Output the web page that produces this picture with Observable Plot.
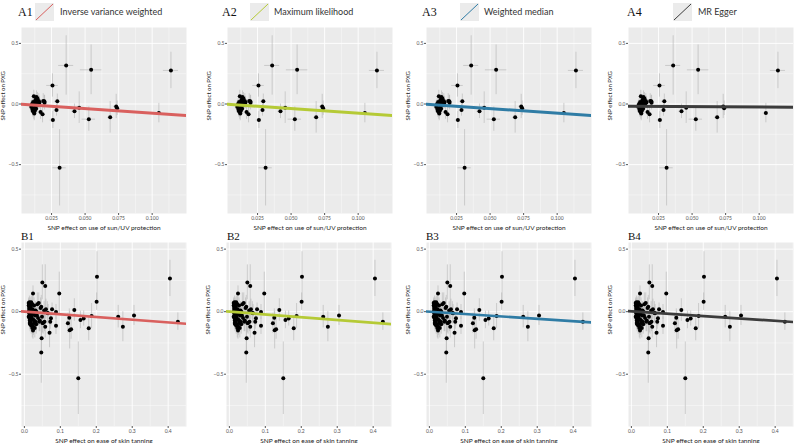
<!DOCTYPE html>
<html>
<head>
<meta charset="utf-8">
<script src="https://cdn.jsdelivr.net/npm/d3@7"></script>
<script src="https://cdn.jsdelivr.net/npm/@observablehq/plot@0.6"></script>
<style>
  html, body { margin: 0; padding: 0; background: #ffffff; }
  #root { position: relative; width: 794px; height: 443px; overflow: hidden; font-family: Lato, sans-serif; }
  .pan { position: absolute; }
  .lab { position: absolute; font-family: "Liberation Serif", serif; font-size: 12px; color: #111; line-height: 1; }
  .leg { position: absolute; font-family: Lato, sans-serif; font-size: 9px; color: #333; line-height: 1; }
  .sw { position: absolute; }
</style>
</head>
<body>
<div id="root"></div>
<script>
// ---------- data ----------
const panelLabelsA = ["A1", "A2", "A3", "A4"];
const panelLabelsB = ["B1", "B2", "B3", "B4"];
const methods = ["Inverse variance weighted", "Maximum likelihood", "Weighted median", "MR Egger"];
const methodColors = ["#d9605e", "#b5ca36", "#2f7ca5", "#3c3c3c"];

// Row A: exposure = use of sun/UV protection
const aX   = [0.0359, 0.0545, 0.114, 0.0257, 0.031, 0.026, 0.0293, 0.0287, 0.0421, 0.0456, 0.0528, 0.0687, 0.0732, 0.0739, 0.105,
              0.0118, 0.0138, 0.0155, 0.0131, 0.0113, 0.0106, 0.0123, 0.0099, 0.0108, 0.0118, 0.0131, 0.0143, 0.0188, 0.0198, 0.0168,
              0.0183, 0.0112, 0.0126, 0.0101, 0.0145, 0.0160, 0.0128, 0.0121, 0.0196, 0.0150, 0.0110, 0.0135];
const aY   = [0.318, 0.282, 0.277, 0.153, -0.526, -0.132, 0.022, -0.05, -0.06, -0.03, -0.125, -0.11, -0.02, -0.035, -0.075,
              0.063, 0.058, 0.025, 0.036, 0.017, 0.003, -0.005, -0.025, -0.046, -0.066, -0.019, 0.003, 0.025, 0.011, -0.066,
              -0.085, -0.035, -0.055, -0.010, 0.045, 0.012, 0.020, -0.078, 0.022, -0.008, -0.058, -0.040];
const aSeX = [0.0056, 0.008, 0.0056, 0.0043, 0.005, 0.002, 0.002, 0.002, 0.002, 0.002, 0.005, 0.002, 0.002, 0.002, 0.002,
              0.0015, 0.0015, 0.002, 0.0015, 0.0015, 0.0015, 0.0015, 0.0015, 0.0015, 0.0015, 0.0015, 0.0015, 0.002, 0.002, 0.002,
              0.002, 0.0015, 0.0015, 0.0015, 0.0015, 0.0015, 0.0015, 0.0015, 0.002, 0.0015, 0.0015, 0.0015];
const aSeY = [0.245, 0.205, 0.15, 0.096, 0.315, 0.07, 0.06, 0.05, 0.06, 0.13, 0.1, 0.13, 0.1, 0.06, 0.08,
              0.05, 0.05, 0.06, 0.04, 0.05, 0.04, 0.05, 0.05, 0.05, 0.06, 0.04, 0.05, 0.06, 0.06, 0.06,
              0.07, 0.05, 0.05, 0.04, 0.05, 0.05, 0.04, 0.06, 0.05, 0.04, 0.05, 0.05];

// Row B: exposure = ease of skin tanning
const bX   = [0.405, 0.202, 0.201, 0.427, 0.305, 0.261, 0.274, 0.187, 0.179, 0.165, 0.156, 0.150, 0.139, 0.130, 0.125,
              0.121, 0.126, 0.097, 0.088, 0.088, 0.077, 0.074, 0.072, 0.070, 0.058, 0.050, 0.048, 0.047, 0.024,
              0.012, 0.012, 0.013, 0.013, 0.013, 0.014, 0.014, 0.015, 0.015, 0.016, 0.016, 0.017, 0.017, 0.018, 0.018,
              0.019, 0.020, 0.020, 0.021, 0.022, 0.022, 0.023, 0.024, 0.025, 0.026, 0.027, 0.028, 0.029, 0.030, 0.031,
              0.033, 0.033, 0.035, 0.036, 0.038, 0.040, 0.041, 0.043, 0.045, 0.047, 0.049, 0.050, 0.052, 0.055, 0.056,
              0.058, 0.060, 0.064, 0.066, 0.012, 0.014, 0.016, 0.019, 0.021, 0.024, 0.027, 0.031];
const bY   = [0.266, 0.279, 0.080, -0.080, -0.030, -0.040, -0.120, -0.035, -0.133, -0.055, -0.066, -0.532, 0.013, -0.140, -0.048,
              -0.093, -0.148, 0.146, -0.003, -0.112, 0.019, -0.053, -0.080, -0.168, 0.205, 0.234, -0.213, -0.327, 0.146,
              0.070, 0.050, 0.030, 0.010, -0.010, -0.030, -0.050, -0.070, -0.090, 0.060, 0.020, -0.020, -0.060, -0.080, 0.040,
              -0.110, 0.000, -0.040, -0.100, -0.130, 0.060, 0.020, -0.060, -0.120, -0.020, 0.050, -0.090, -0.130, -0.030, -0.080,
              0.000, -0.100, -0.030, 0.060, -0.050, 0.070, -0.080, -0.070, 0.030, 0.040, -0.040, -0.090, -0.090, 0.010, -0.080,
              -0.120, 0.020, -0.010, -0.013, -0.040, 0.075, -0.100, 0.075, 0.000, -0.150, -0.070, 0.010];
const bSeX = [0.003, 0.003, 0.003, 0.003, 0.003, 0.003, 0.003, 0.003, 0.003, 0.003, 0.003, 0.003, 0.003, 0.003, 0.003,
              0.003, 0.003, 0.003, 0.003, 0.003, 0.003, 0.003, 0.003, 0.003, 0.003, 0.003, 0.003, 0.003, 0.003,
              0.002, 0.002, 0.002, 0.002, 0.002, 0.002, 0.002, 0.002, 0.002, 0.002, 0.002, 0.002, 0.002, 0.002, 0.002,
              0.002, 0.002, 0.002, 0.002, 0.002, 0.002, 0.002, 0.002, 0.002, 0.002, 0.002, 0.002, 0.002, 0.002, 0.002,
              0.002, 0.002, 0.002, 0.002, 0.002, 0.002, 0.002, 0.002, 0.002, 0.002, 0.002, 0.002, 0.002, 0.002, 0.002,
              0.002, 0.002, 0.002, 0.002, 0.002, 0.002, 0.002, 0.002, 0.002, 0.002, 0.002, 0.002];
const bSeY = [0.145, 0.200, 0.070, 0.070, 0.080, 0.090, 0.120, 0.100, 0.100, 0.060, 0.070, 0.290, 0.090, 0.080, 0.070,
              0.080, 0.150, 0.170, 0.060, 0.070, 0.050, 0.060, 0.060, 0.120, 0.170, 0.140, 0.120, 0.245, 0.060,
              0.040, 0.050, 0.040, 0.050, 0.060, 0.050, 0.050, 0.060, 0.050, 0.050, 0.040, 0.050, 0.060, 0.060, 0.050,
              0.070, 0.050, 0.050, 0.060, 0.080, 0.060, 0.050, 0.060, 0.070, 0.050, 0.060, 0.070, 0.080, 0.060, 0.070,
              0.060, 0.080, 0.070, 0.090, 0.070, 0.080, 0.080, 0.090, 0.080, 0.090, 0.070, 0.080, 0.090, 0.070, 0.080,
              0.090, 0.080, 0.090, 0.070, 0.050, 0.050, 0.060, 0.050, 0.060, 0.070, 0.060, 0.070];

// regression fits (intercept, slope) per method
const aIntercepts = [0.000, 0.000, 0.000, -0.018];
const aSlopes     = [-0.76, -0.76, -0.75, -0.07];
const bIntercepts = [0.000, 0.000, 0.000, 0.003];
const bSlopes     = [-0.215, -0.22, -0.19, -0.19];

// axes
const aXTicks = [0.025, 0.050, 0.075, 0.100];
const aXMinor = [0.0125, 0.0375, 0.0625, 0.0875, 0.1125];
const bXTicks = [0.0, 0.1, 0.2, 0.3, 0.4];
const bXMinor = [0.05, 0.15, 0.25, 0.35, 0.45];
const yTicks  = [-0.5, 0.0, 0.5];
const yMinor  = [-0.75, -0.25, 0.25];
const aXLabel = "SNP effect on use of sun/UV protection";
const bXLabel = "SNP effect on ease of skin tanning";
const yLabel  = "SNP effect on PXG";

// ---------- layout ----------
const root = document.getElementById("root");
const colLeft = [0, 200, 400, 600];
const panelLeft = [21, 27, 26, 28];
const panelW = 165;

function rows(xs, ys, sxs, sys) {
  return xs.map((x, i) => ({x, y: ys[i], sx: sxs[i], sy: sys[i]}));
}
const aData = rows(aX, aY, aSeX, aSeY);
const bData = rows(bX, bY, bSeX, bSeY);

function makePanel(data, opts) {
  const {xDomain, yDomain, xTicks, xMinor, xFmt, xLabel, b0, b1, color, ml, mt, mb, ph, lw} = opts;
  const line = xDomain.map(x => ({x, y: b0 + b1 * x}));
  return Plot.plot({
    width: ml + panelW + 1,
    height: mt + ph + mb,
    marginLeft: ml, marginRight: 1, marginTop: mt, marginBottom: mb,
    style: {fontFamily: "Lato, sans-serif", fontSize: "5px", color: "#555", background: "transparent", overflow: "visible"},
    x: {domain: xDomain},
    y: {domain: yDomain},
    marks: [
      Plot.frame({fill: "#ebebeb", stroke: null}),
      Plot.gridX(xMinor, {stroke: "#ffffff", strokeOpacity: 1, strokeWidth: 0.4}),
      Plot.gridY(yMinor, {stroke: "#ffffff", strokeOpacity: 1, strokeWidth: 0.4}),
      Plot.gridX(xTicks, {stroke: "#ffffff", strokeOpacity: 1, strokeWidth: 0.9}),
      Plot.gridY(yTicks, {stroke: "#ffffff", strokeOpacity: 1, strokeWidth: 0.9}),
      Plot.axisX(xTicks, {tickFormat: xFmt, tickSize: 2, tickPadding: 1, label: null, fontSize: 5, stroke: "#555"}),
      Plot.axisY(yTicks, {tickFormat: d3.format(".1f"), tickSize: 2, tickPadding: 1, label: null, fontSize: 5, stroke: "#555"}),
      Plot.text([xLabel], {frameAnchor: "bottom", dy: 16, text: d => d, fontSize: 6.5, fill: "#222"}),
      Plot.text([yLabel], {frameAnchor: "left", dx: -18, text: d => d, rotate: -90, fontSize: 6, fill: "#222"}),
      Plot.ruleX(data, {x: "x", y1: d => d.y - d.sy, y2: d => d.y + d.sy, stroke: "#b3b3b3", strokeWidth: 0.6, clip: true}),
      Plot.ruleY(data, {y: "y", x1: d => d.x - d.sx, x2: d => d.x + d.sx, stroke: "#b3b3b3", strokeWidth: 0.6, clip: true}),
      Plot.dot(data, {x: "x", y: "y", r: 2, fill: "#000", stroke: null}),
      Plot.line(line, {x: "x", y: "y", stroke: color, strokeWidth: lw, clip: true})
    ]
  });
}

function place(el, left, top) {
  el.classList.add("pan");
  el.style.left = left + "px";
  el.style.top = top + "px";
  root.appendChild(el);
}

const headLabelOff = [18, 22, 22, 27];
const swatchLeft = [35, 250, 460, 673];
const legTextLeft = [60, 274, 484, 698];

for (let i = 0; i < 4; i++) {
  // Row A
  const pa = makePanel(aData, {
    xDomain: [0.0026, 0.1256], yDomain: [-0.903, 0.631],
    xTicks: aXTicks, xMinor: aXMinor, xFmt: d3.format(".3f"), xLabel: aXLabel,
    b0: aIntercepts[i], b1: aSlopes[i], color: methodColors[i],
    ml: panelLeft[i], mt: 3, mb: 22, ph: 186, lw: 3
  });
  place(pa, colLeft[i], 24);

  // Row B
  const pb = makePanel(bData, {
    xDomain: [-0.008, 0.451], yDomain: [-0.918, 0.553],
    xTicks: bXTicks, xMinor: bXMinor, xFmt: d3.format(".1f"), xLabel: bXLabel,
    b0: bIntercepts[i], b1: bSlopes[i], color: methodColors[i],
    ml: panelLeft[i] - (i === 1 ? 1 : 0), mt: 4, mb: 17, ph: 184, lw: 2.7
  });
  place(pb, colLeft[i], 238);

  // headers
  const la = document.createElement("div");
  la.className = "lab";
  la.textContent = panelLabelsA[i];
  la.style.left = (colLeft[i] + headLabelOff[i]) + "px";
  la.style.top = "6px";
  root.appendChild(la);

  const lb = document.createElement("div");
  lb.className = "lab";
  lb.style.fontSize = "11px";
  lb.textContent = panelLabelsB[i];
  lb.style.left = (colLeft[i] + panelLeft[i]) + "px";
  lb.style.top = "231px";
  root.appendChild(lb);

  const svgNS = "http://www.w3.org/2000/svg";
  const sw = document.createElementNS(svgNS, "svg");
  sw.setAttribute("width", 19); sw.setAttribute("height", 18);
  sw.setAttribute("class", "sw");
  sw.style.left = swatchLeft[i] + "px"; sw.style.top = "3px";
  const r = document.createElementNS(svgNS, "rect");
  r.setAttribute("width", 19); r.setAttribute("height", 18); r.setAttribute("fill", "#ebebeb");
  sw.appendChild(r);
  const l = document.createElementNS(svgNS, "line");
  l.setAttribute("x1", 1); l.setAttribute("y1", 17); l.setAttribute("x2", 18); l.setAttribute("y2", 1);
  l.setAttribute("stroke", methodColors[i]); l.setAttribute("stroke-width", 1);
  sw.appendChild(l);
  root.appendChild(sw);

  const lt = document.createElement("div");
  lt.className = "leg";
  lt.textContent = methods[i];
  lt.style.left = legTextLeft[i] + "px";
  lt.style.top = "7px";
  root.appendChild(lt);
}
</script>
</body>
</html>
